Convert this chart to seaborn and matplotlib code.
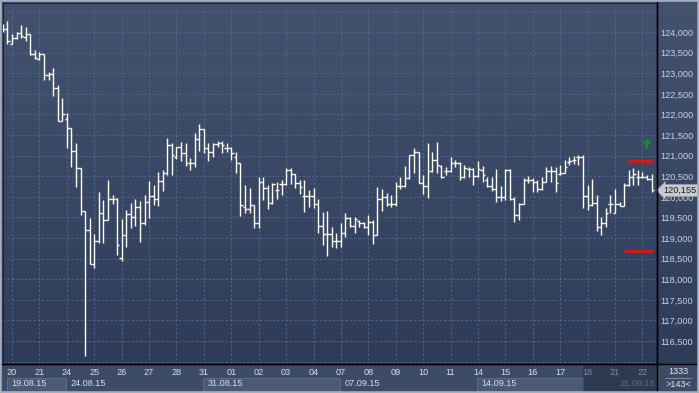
import numpy as np
import pandas as pd
import seaborn as sns
import matplotlib.pyplot as plt
from matplotlib.patches import Rectangle
from matplotlib.lines import Line2D
from matplotlib.colors import LinearSegmentedColormap
from matplotlib.transforms import blended_transform_factory

# OHLC bars (143 bars, 6 per day)
bar_open = [124100, 124065, 123715, 123860, 123970, 123885, 123945, 123460, 123340, 123465,
            122950, 122980, 122635, 121840, 121880, 121665, 121120, 120690, 119650, 119195,
            118360, 118930, 119610, 119440, 119940, 119940, 118510, 119065, 119575, 119510,
            119760, 119360, 119880, 120020, 119940, 120385, 120585, 121260, 120975, 121200,
            121055, 120820, 120820, 121395, 121640, 121180, 121095, 121280, 121300, 121180,
            121180, 120975, 120815, 119755, 119700, 119800, 119360, 120365, 120205, 119845,
            120165, 120310, 120310, 120650, 120555, 120330, 120020, 120020, 120020, 119820,
            119290, 119090, 119090, 118935, 118935, 119130, 119480, 119290, 119415, 119360,
            119275, 119395, 119075, 119945, 120005, 119820, 119820, 120265, 120265, 120450,
            121015, 121095, 120330, 120265, 120625, 120895, 120760, 120625, 120625, 120830,
            120815, 120490, 120670, 120670, 120505, 120650, 120410, 120265, 120185, 120005,
            120005, 120650, 119955, 119560, 119825, 120410, 120410, 120365, 120185, 120365,
            120635, 120635, 120555, 120585, 120850, 120895, 120960, 120975, 120020, 119800,
            119845, 119275, 119370, 119825, 119615, 119825, 119775, 120285, 120475, 120475,
            120475, 120475, 120425]
bar_high = [124195, 124265, 123945, 123995, 124170, 124130, 123945, 123565, 123510, 123465,
            123035, 123120, 122715, 122390, 122025, 121665, 121300, 120705, 119650, 119480,
            119100, 120110, 119925, 120410, 120045, 119980, 119460, 119680, 119860, 119945,
            119905, 120045, 120385, 120285, 120605, 120650, 121420, 121300, 121215, 121325,
            121300, 120940, 121555, 121760, 121640, 121315, 121315, 121355, 121355, 121300,
            121200, 121095, 120815, 120285, 120205, 119800, 120475, 120490, 120285, 120330,
            120365, 120410, 120690, 120705, 120555, 120410, 120410, 120165, 120205, 119940,
            119640, 119655, 119275, 119115, 119360, 119600, 119505, 119505, 119440, 119395,
            119560, 119440, 120230, 120185, 120085, 120045, 120365, 120490, 120750, 121015,
            121190, 121095, 120530, 121315, 121095, 121340, 120775, 120730, 120975, 120895,
            120850, 120775, 120730, 120690, 120870, 120750, 120475, 120475, 120670, 120265,
            120670, 120670, 120005, 119860, 120450, 120505, 120450, 120410, 120475, 120730,
            120750, 120730, 120775, 120895, 120960, 120990, 121015, 121015, 120285, 120425,
            120045, 119520, 119720, 120045, 120185, 119880, 120330, 120650, 120690, 120650,
            120610, 120530, 120555]
bar_low = [124000, 123700, 123700, 123830, 123860, 123780, 123440, 123340, 123315, 122830,
           122830, 122455, 121840, 121840, 121180, 120730, 120245, 119560, 116145, 118360,
           118265, 118870, 118885, 119440, 119825, 118590, 118450, 118790, 119250, 119290,
           118910, 119315, 119495, 119800, 119775, 120150, 120530, 120530, 120910, 120875,
           120750, 120650, 120730, 121120, 121055, 120875, 120975, 121210, 121070, 121095,
           120895, 120585, 119535, 119610, 119600, 119235, 119235, 119925, 119700, 119830,
           119945, 120045, 120285, 120310, 120205, 120060, 119640, 119760, 119720, 119115,
           118830, 118565, 118790, 118765, 118790, 119030, 119275, 119130, 119275, 119250,
           119075, 118855, 119075, 119655, 119775, 119760, 119775, 120185, 120245, 120435,
           120570, 120330, 120060, 119980, 120600, 120585, 120450, 120530, 120610, 120730,
           120410, 120450, 120490, 120285, 120490, 120365, 120230, 120150, 119880, 119905,
           119925, 119925, 119395, 119440, 119825, 120330, 120125, 120125, 120170, 120365,
           120365, 120125, 120530, 120570, 120775, 120795, 120775, 119720, 119680, 119775,
           119180, 119075, 119275, 119615, 119615, 119775, 119775, 120265, 120285, 120285,
           120450, 120410, 120125]
bar_close = [124075, 123780, 123860, 123970, 123905, 123945, 123460, 123360, 123465, 122950,
             122980, 122635, 121840, 122005, 121665, 121120, 120690, 119645, 119195, 118360,
             118930, 119610, 119440, 119940, 119940, 118825, 119065, 119575, 119510, 119760,
             119360, 119880, 120020, 119940, 120385, 120585, 121260, 121015, 121200, 121055,
             120820, 120820, 121395, 121640, 121180, 121095, 121280, 121315, 121260, 121180,
             121070, 120815, 119800, 119700, 119800, 119360, 120365, 120205, 119845, 120305,
             120165, 120310, 120650, 120555, 120330, 120245, 120020, 120020, 119820, 119290,
             119090, 119090, 118935, 118935, 119130, 119480, 119290, 119455, 119360, 119275,
             119395, 119075, 119945, 120005, 119820, 119820, 120265, 120265, 120450, 121015,
             121095, 120330, 120265, 120625, 120895, 120775, 120490, 120625, 120830, 120815,
             120490, 120690, 120670, 120505, 120670, 120530, 120265, 120185, 120005, 120005,
             120650, 119955, 119560, 119825, 120410, 120410, 120365, 120185, 120365, 120635,
             120635, 120330, 120585, 120730, 120875, 120895, 120975, 120020, 119800, 119845,
             119275, 119370, 119615, 119825, 119825, 119775, 120285, 120475, 120555, 120475,
             120475, 120425, 120155]

day_labels = ['20', '21', '24', '25', '26', '27', '28', '31', '01', '02', '03', '04',
              '07', '08', '09', '10', '11', '14', '15', '16', '17', '18', '21', '22']
bars_per_day = 6
first_day_bar = 2

week_labels = ['19.08.15', '24.08.15', '31.08.15', '07.09.15', '14.09.15']
week_start_bar = [1, 14, 44, 74, 104]
week_boxed = [True, False, True, False, True]
week_box_end = [14, 44, 74, 104, 127]
last_week_label = '21.09.15'

last_price = 120155
level_high = 120875
level_low = 118685
signal_from, signal_to = 121160, 121420
footer_count = '1333'
footer_bars = '>143<'

df = pd.DataFrame({'open': bar_open, 'high': bar_high, 'low': bar_low, 'close': bar_close})
df['bar'] = np.arange(len(df))

sns.set_theme(style='dark')
plt.rcParams['font.family'] = ['Liberation Sans', 'DejaVu Sans']
FS = 6.6

W, H = 699, 393
fig = plt.figure(figsize=(W / 100, H / 100), dpi=100)

# background gradient over the whole window
bg = fig.add_axes([0, 0, 1, 1], zorder=-1)
grad = np.linspace(0, 1, 256).reshape(-1, 1)
bg.imshow(grad, aspect='auto', extent=[0, 1, 0, 1],
          cmap=LinearSegmentedColormap.from_list('bg', ['#43536f', '#2c3a58']))
bg.add_patch(Rectangle((0, 0), 1, 29 / H, color='#3c4b66', lw=0))
bg.set_xlim(0, 1)
bg.set_ylim(0, 1)
bg.axis('off')

ax = fig.add_axes([3 / W, 29 / H, 654 / W, 361 / H])
ax.set_facecolor('none')

# OHLC bars
tick = 0.5
ax.vlines(df['bar'], df['low'], df['high'], color='white', lw=1.0, zorder=3)
ax.hlines(df['open'], df['bar'] - tick, df['bar'], color='white', lw=1.0, zorder=3)
ax.hlines(df['close'], df['bar'], df['bar'] + tick, color='white', lw=1.0, zorder=3)

# support / resistance levels
sns.lineplot(x=[137.1, 142.1], y=[level_high, level_high], color='#e0141a', lw=2, ax=ax, zorder=4)
sns.lineplot(x=[136.2, 142.1], y=[level_low, level_low], color='#e0141a', lw=2, ax=ax, zorder=4)
ax.annotate('', xy=(141.0, signal_to), xytext=(141.0, signal_from),
            arrowprops=dict(width=2.0, headwidth=6.5, headlength=4, shrink=0,
                            color='#1c8a22', lw=0), zorder=4)

ax.set_xlim(0.02, 143.2)
ax.set_ylim(115943, 124704)

day_bars = [first_day_bar + bars_per_day * k for k in range(len(day_labels))]
ax.set_xticks(day_bars)
ax.set_xticklabels(day_labels)
yt = np.arange(116000, 124501, 500)
ax.set_yticks(yt)
ax.set_yticklabels(['' if v in (116000, 124500) else f'{v:,}' for v in yt])
ax.yaxis.tick_right()
ax.tick_params(axis='y', length=0, pad=2.3, labelsize=FS, colors='#ccd3df')
ax.tick_params(axis='x', length=0, pad=3.0, labelsize=FS, colors='#d8dde7')
ax.grid(True, color='#56668a', ls=(0, (2.2, 2.2)), lw=0.7)
ax.set_axisbelow(True)
for side in ['left', 'top']:
    ax.spines[side].set_color('#1b2335')
    ax.spines[side].set_linewidth(0.8)
for side in ['right', 'bottom']:
    ax.spines[side].set_color('black')
    ax.spines[side].set_linewidth(1.0)

# last price marker (covers the 120,000 label as in the terminal)
mark = blended_transform_factory(ax.transAxes, ax.transData)
ax.text(1 + 6 / 654, last_price, f'{last_price:,}', transform=mark, ha='left', va='center',
        fontsize=FS, color='#1a1d22', clip_on=False, zorder=6,
        bbox=dict(boxstyle='larrow,pad=0.18', fc='#c6cad1', ec='#8d939d', lw=0.5))

# week row under the day labels
wk = blended_transform_factory(ax.transData, fig.transFigure)
for lab, start, boxed, end in zip(week_labels, week_start_bar, week_boxed, week_box_end):
    if boxed:
        bg.add_patch(Rectangle((start - 0.1, 2 / H), end - start, 13 / H, transform=wk,
                               fc='#4a5974', ec='#64728c', lw=0.6))
    ax.text(start + 0.8, 9.5 / H, lab, transform=wk, ha='left', va='center',
            fontsize=FS, color='#d8dde6', clip_on=False)
ax.text(142.7, 9.5 / H, last_week_label, transform=wk, ha='right', va='center',
        fontsize=FS, color='#9aa3b5', clip_on=False)

# dimmed scroll window at the right of the time axis
fig.add_artist(Rectangle((583 / W, 2 / H), 74 / W, 27 / H, transform=fig.transFigure,
                         fc='#1c263b', alpha=0.45, lw=0, zorder=5))

# separators and corner cell
fig.add_artist(Line2D([657 / W, 657 / W], [0, 1 - 2 / H], color='black', lw=1.0, zorder=6))
fig.add_artist(Line2D([0, 1], [29 / H, 29 / H], color='black', lw=1.0, zorder=6))
fig.text(678 / W, (H - 371) / H, footer_count, ha='center', va='center', fontsize=FS,
         color='#e2e6ee', zorder=7)
fig.add_artist(Line2D([665 / W, 691 / W], [(H - 378) / H] * 2, color='#8a94a6', lw=0.6, zorder=7))
fig.text(678 / W, (H - 384.5) / H, footer_bars, ha='center', va='center', fontsize=FS,
         color='#e2e6ee', zorder=7)

# window frame
fig.add_artist(Rectangle((0, 0), 1, 1, transform=fig.transFigure, fill=False,
                         ec='#a7afbd', lw=2.6, zorder=8))

fig.savefig('out.png', dpi=100)
